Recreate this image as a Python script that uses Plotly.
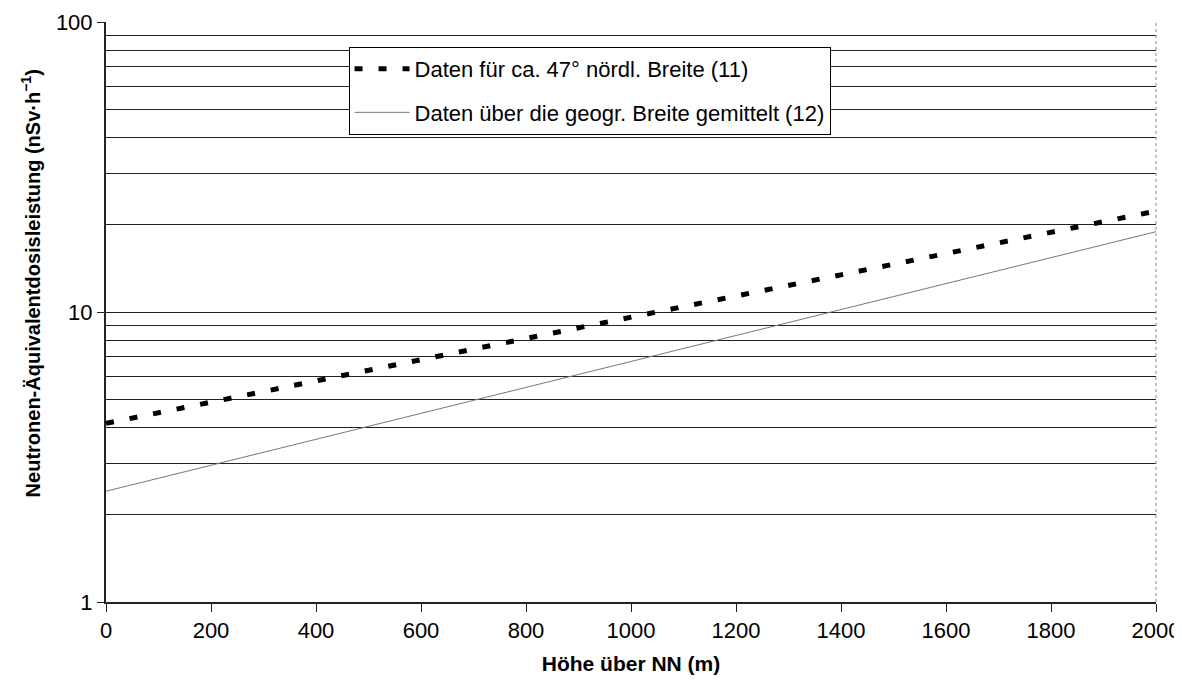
import plotly.graph_objects as go

# Data
hoehe = [0, 200, 400, 600, 800, 1000, 1200, 1400, 1600, 1800, 2000]
daten_47 = [4.13, 4.89, 5.79, 6.85, 8.11, 9.59, 11.36, 13.44, 15.91, 18.83, 22.28]
daten_mittel = [2.41, 2.96, 3.64, 4.47, 5.50, 6.75, 8.30, 10.20, 12.53, 15.40, 18.92]

name_47 = "Daten für ca. 47° nördl. Breite (11)"
name_mittel = "Daten über die geogr. Breite gemittelt (12)"

x_ticks = [0, 200, 400, 600, 800, 1000, 1200, 1400, 1600, 1800, 2000]
y_ticks = [1, 10, 100]
y_minor = [2, 3, 4, 5, 6, 7, 8, 9, 20, 30, 40, 50, 60, 70, 80, 90, 100]

font_family = "Liberation Sans, Arial, sans-serif"

fig = go.Figure()
fig.add_trace(go.Scatter(
    x=hoehe, y=daten_47, mode="lines", name=name_47, legendgroup="a",
    line=dict(color="black", width=5, dash="8px,16px"),
))
fig.add_trace(go.Scatter(
    x=hoehe, y=daten_mittel, mode="lines", name=name_mittel, legendgroup="b",
    line=dict(color="#777777", width=1),
))

# page body has an 8px margin: compensate so the plot area lands where the reference has it
fig.update_layout(
    width=1174, height=675,
    margin=dict(l=98, r=26, t=14, b=81),
    paper_bgcolor="white", plot_bgcolor="white",
    font=dict(family=font_family, size=22, color="black"),
    showlegend=True,
    legend=dict(
        x=0.231, y=0.957, xanchor="left", yanchor="top",
        bgcolor="white", bordercolor="black", borderwidth=1,
        font=dict(size=22), tracegroupgap=12,
        itemwidth=55,
    ),
    xaxis=dict(
        range=[0, 2000], tickvals=x_ticks, automargin=False,
        showgrid=False, zeroline=False,
        showline=True, linecolor="#222222", linewidth=1.5,
        ticks="outside", ticklen=8, tickcolor="#222222",
        tickfont=dict(size=22),
        title=dict(text="<b>Höhe über NN (m)</b>", font=dict(size=21), standoff=14),
    ),
    yaxis=dict(
        type="log", range=[0, 2], tickvals=y_ticks, ticktext=["1", "10", "100"],
        automargin=False,
        showgrid=True, gridcolor="#222222", gridwidth=1,
        minor=dict(tickvals=y_minor, showgrid=True, gridcolor="#222222", gridwidth=1, ticks=""),
        zeroline=False,
        showline=True, linecolor="#222222", linewidth=2,
        ticks="outside", ticklen=7, tickcolor="#222222",
        tickfont=dict(size=22),
    ),
    annotations=[dict(
        text="<b>Neutronen-Äquivalentdosisleistung (nSv·h<sup>−1</sup>)</b>",
        xref="paper", yref="paper", x=-0.072, y=0.55,
        xanchor="center", yanchor="middle", textangle=-90,
        showarrow=False, font=dict(size=20, color="black"),
    )],
    shapes=[dict(type="line", xref="paper", yref="paper", x0=1, x1=1, y0=0, y1=1,
                 line=dict(color="#888888", width=1, dash="dot"))],
)

fig.write_html("out.html")
